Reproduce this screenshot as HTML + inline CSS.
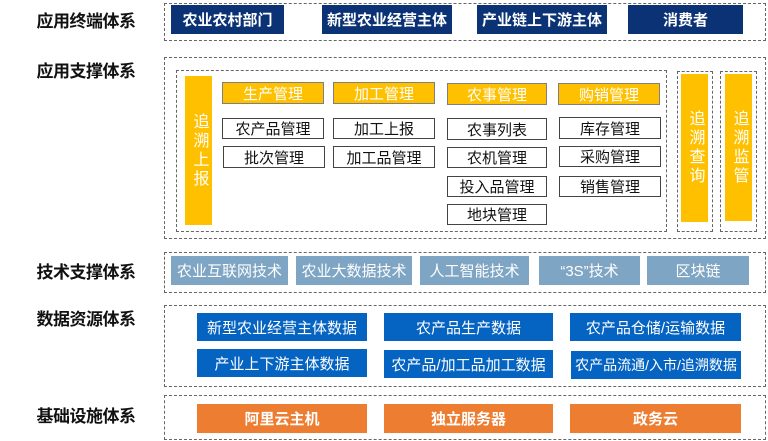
<!DOCTYPE html>
<html><head><meta charset="utf-8"><style>
body{margin:0;width:768px;height:441px;background:#fff;position:relative;overflow:hidden;font-family:"Liberation Sans","Noto Sans CJK SC",sans-serif}
div{position:absolute;box-sizing:border-box}
.lb{left:28px;width:116px;font-size:17px;font-weight:bold;color:#111;text-align:center;height:22px;line-height:22px;letter-spacing:-0.5px}
.d{border:1px dashed #666}
.c{display:flex;align-items:center;justify-content:center;white-space:nowrap}
.n{background:#0a3275;color:#fff;font-size:15px;font-weight:bold}
.y{background:#ffc000;color:#fff;font-size:15px;border:1px solid #7f7f7f}
.w{background:#fff;color:#111;font-size:15px;border:1.5px solid #444}
.v{background:#ffc000;color:#fff;font-size:16px;line-height:20px;text-align:center;writing-mode:vertical-rl;letter-spacing:3px}
.t{background:#7ea5c3;color:#fff;font-size:15px}
.b{background:#0563c1;color:#fff;font-size:15px}
.o{background:#ed7d31;color:#fff;font-size:15px;font-weight:bold}
</style></head><body>
<div class="lb" style="top:11px">应用终端体系</div>
<div class="lb" style="top:61px">应用支撑体系</div>
<div class="lb" style="top:262px">技术支撑体系</div>
<div class="lb" style="top:309px">数据资源体系</div>
<div class="lb" style="top:406px">基础设施体系</div>

<div class="d" style="left:164px;top:3px;width:602px;height:38px"></div>
<div class="c n" style="left:171px;top:5px;width:113px;height:29px">农业农村部门</div>
<div class="c n" style="left:322px;top:5px;width:130px;height:29px">新型农业经营主体</div>
<div class="c n" style="left:477px;top:5px;width:130px;height:29px">产业链上下游主体</div>
<div class="c n" style="left:628px;top:5px;width:115px;height:29px">消费者</div>

<div class="d" style="left:164px;top:57px;width:602px;height:182px"></div>
<div class="d" style="left:176px;top:70px;width:491px;height:162px"></div>
<div class="c v" style="left:185px;top:76px;width:27px;height:149px">追溯上报</div>
<div class="c y" style="left:222px;top:82px;width:102px;height:22px">生产管理</div>
<div class="c y" style="left:333px;top:82px;width:102px;height:22px">加工管理</div>
<div class="c y" style="left:447px;top:83px;width:100px;height:22px">农事管理</div>
<div class="c y" style="left:558px;top:83px;width:102px;height:22px">购销管理</div>
<div class="c w" style="left:222px;top:118px;width:102px;height:21px">农产品管理</div>
<div class="c w" style="left:223px;top:146px;width:102px;height:22px">批次管理</div>
<div class="c w" style="left:333px;top:118px;width:102px;height:21px">加工上报</div>
<div class="c w" style="left:333px;top:146px;width:102px;height:22px">加工品管理</div>
<div class="c w" style="left:447px;top:118px;width:100px;height:22px">农事列表</div>
<div class="c w" style="left:447px;top:147px;width:100px;height:21px">农机管理</div>
<div class="c w" style="left:447px;top:176px;width:100px;height:21px">投入品管理</div>
<div class="c w" style="left:447px;top:204px;width:100px;height:21px">地块管理</div>
<div class="c w" style="left:559px;top:117px;width:102px;height:22px">库存管理</div>
<div class="c w" style="left:559px;top:146px;width:102px;height:21px">采购管理</div>
<div class="c w" style="left:559px;top:176px;width:102px;height:21px">销售管理</div>
<div class="d" style="left:677px;top:71px;width:36px;height:161px"></div>
<div class="c v" style="left:681px;top:74px;width:27px;height:148px">追溯查询</div>
<div class="d" style="left:720px;top:71px;width:37px;height:161px"></div>
<div class="c v" style="left:725px;top:74px;width:27px;height:147px">追溯监管</div>

<div class="d" style="left:164px;top:252px;width:602px;height:41px"></div>
<div class="c t" style="left:171px;top:256px;width:117px;height:29px">农业互联网技术</div>
<div class="c t" style="left:296px;top:256px;width:116px;height:29px">农业大数据技术</div>
<div class="c t" style="left:420px;top:256px;width:109px;height:29px">人工智能技术</div>
<div class="c t" style="left:539px;top:256px;width:101px;height:29px">“3S”技术</div>
<div class="c t" style="left:647px;top:256px;width:102px;height:29px">区块链</div>

<div class="d" style="left:164px;top:305px;width:602px;height:82px"></div>
<div class="c b" style="left:197px;top:313px;width:170px;height:28px">新型农业经营主体数据</div>
<div class="c b" style="left:384px;top:313px;width:169px;height:28px">农产品生产数据</div>
<div class="c b" style="left:570px;top:313px;width:171px;height:28px">农产品仓储/运输数据</div>
<div class="c b" style="left:197px;top:349px;width:170px;height:28px">产业上下游主体数据</div>
<div class="c b" style="left:384px;top:350px;width:169px;height:28px">农产品/加工品加工数据</div>
<div class="c b" style="left:571px;top:351px;width:170px;height:28px;font-size:14px">农产品流通/入市/追溯数据</div>

<div class="d" style="left:164px;top:395px;width:602px;height:45px"></div>
<div class="c o" style="left:197px;top:404px;width:170px;height:29px">阿里云主机</div>
<div class="c o" style="left:384px;top:404px;width:169px;height:29px">独立服务器</div>
<div class="c o" style="left:570px;top:404px;width:171px;height:29px">政务云</div>
</body></html>
